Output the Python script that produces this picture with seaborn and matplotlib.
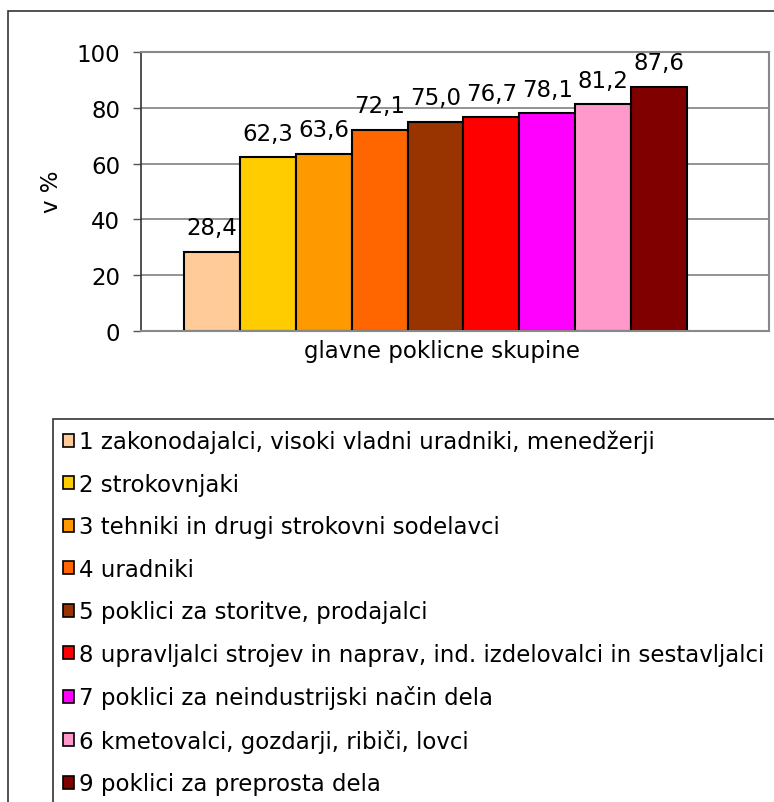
import numpy as np
import pandas as pd
import matplotlib
matplotlib.use('Agg')
import matplotlib.pyplot as plt
import seaborn as sns
from matplotlib.patches import Rectangle

# podatki
skupine = ['1 zakonodajalci, visoki vladni uradniki, menedžerji',
           '2 strokovnjaki',
           '3 tehniki in drugi strokovni sodelavci',
           '4 uradniki',
           '5 poklici za storitve, prodajalci',
           '8 upravljalci strojev in naprav, ind. izdelovalci in sestavljalci',
           '7 poklici za neindustrijski način dela',
           '6 kmetovalci, gozdarji, ribiči, lovci',
           '9 poklici za preprosta dela']
vrednosti = [28.4, 62.3, 63.6, 72.1, 75.0, 76.7, 78.1, 81.2, 87.6]
barve = ['#FFCC99', '#FFCC00', '#FF9900', '#FF6600', '#993300',
         '#FF0000', '#FF00FF', '#FF99CC', '#800000']
y_ticks = [0, 20, 40, 60, 80, 100]

sns.set_style('white')
plt.rcParams['font.family'] = ['DejaVu Sans']
plt.rcParams['text.color'] = 'black'
plt.rcParams['ytick.color'] = 'black'

FS = 16.5
W, H = 774, 803
fig = plt.figure(figsize=(W / 100, H / 100), dpi=100)

def fx(px):
    return px / W

def fy(py):
    return 1 - py / H

# zunanji okvir grafikona
fig.patches.append(Rectangle((fx(8), fy(900)), 1.2, fy(12) - fy(900),
                             transform=fig.transFigure, fill=False,
                             edgecolor='#333333', lw=1.2, zorder=0))
# okvir legende
fig.patches.append(Rectangle((fx(53), fy(900)), 1.2, fy(420) - fy(900),
                             transform=fig.transFigure, fill=False,
                             edgecolor='#333333', lw=1.2, zorder=0))

left, right, top, bottom = 141, 769, 53, 332
ax = fig.add_axes([fx(left), fy(bottom), fx(right) - fx(left), fy(top) - fy(bottom)])

df = pd.DataFrame({'skupina': skupine, 'vrednost': vrednosti})
sns.barplot(data=df, x='skupina', y='vrednost', hue='skupina', order=skupine,
            hue_order=skupine, palette=barve, width=1, dodge=False, saturation=1,
            edgecolor='black', linewidth=1.5, ax=ax, legend=True)

# polozaj stolpcev
bw = (687 - 184) / 9
ax.set_xlim(-0.5 - (184 - left) / bw, 8.5 + (right - 687) / bw)
ax.set_ylim(0, 100)
ax.set_yticks(y_ticks)
ax.set_yticklabels([str(t) for t in y_ticks], fontsize=FS)
ax.set_xticks([])
ax.set_xlabel('')
ax.set_ylabel('')
ax.yaxis.grid(True, color='#808080', lw=1.2)
ax.set_axisbelow(True)
ax.tick_params(axis='y', left=True, length=6, width=1, color='#555555', pad=9)
for s in ['top', 'right', 'bottom']:
    ax.spines[s].set_color('#888888')
    ax.spines[s].set_linewidth(1.5)
ax.spines['left'].set_color('#333333')
ax.spines['left'].set_linewidth(1.2)

for i, v in enumerate(vrednosti):
    ax.annotate(f'{v:.1f}'.replace('.', ','), (i, v), xytext=(0, 9),
                textcoords='offset points', ha='center', va='bottom', fontsize=FS)

fig.text(fx(52), fy(192), 'v %', rotation=90, ha='center', va='center', fontsize=FS)
fig.text(fx(442), fy(352), 'glavne poklicne skupine', ha='center', va='center', fontsize=FS)

handles, labels = ax.get_legend_handles_labels()
ax.legend_.remove()
leg = fig.legend(handles, labels, loc='upper left', bbox_to_anchor=(fx(56), fy(424)),
                 fontsize=FS, frameon=False,
                 handlelength=0.5, handleheight=0.5, handletextpad=0.2,
                 labelspacing=0.85, borderpad=0.3, borderaxespad=0)
for h in leg.legend_handles:
    h.set_edgecolor('black')
    h.set_linewidth(1.2)

fig.savefig('out.png', dpi=100)
